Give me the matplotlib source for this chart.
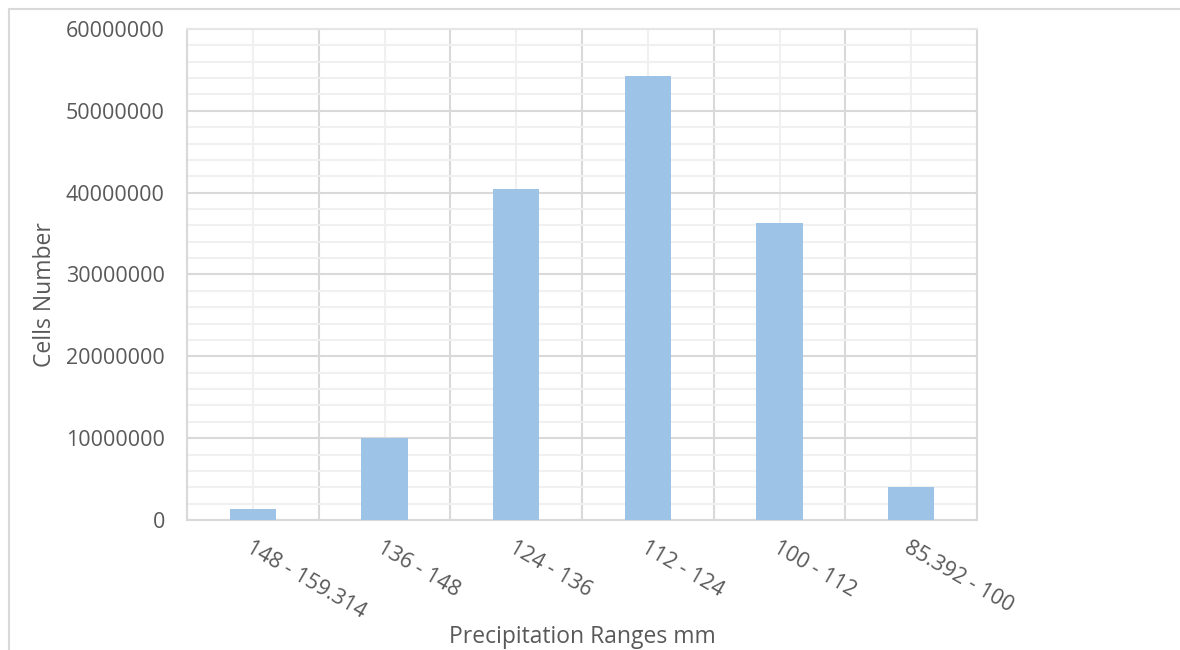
import numpy as np
import matplotlib
matplotlib.use("Agg")
import matplotlib.pyplot as plt
from matplotlib.lines import Line2D

# data
ranges = ["148 - 159.314", "136 - 148", "124 - 136", "112 - 124", "100 - 112", "85.392 - 100"]
cells = [1300000, 10000000, 40500000, 54300000, 36250000, 4000000]
yticks = [0, 10000000, 20000000, 30000000, 40000000, 50000000, 60000000]

plt.rcParams['font.family'] = ['Open Sans', 'DejaVu Sans']
textcol = "#595959"
major = "#d9d9d9"
minor = "#f0f0f0"

fig = plt.figure(figsize=(11.8, 6.5), dpi=100)
ax = fig.add_axes([187/1180, 130/650, 790/1180, 491/650])

x = np.arange(len(ranges))
ax.bar(x, cells, width=0.35, color="#9dc3e6", zorder=3)

ax.set_xlim(-0.5, len(ranges) - 0.5)
ax.set_ylim(0, 60000000)

# category centers carry labels + light grid, boundaries carry darker grid
ax.set_xticks(x)
ax.set_xticks(np.arange(-0.5, len(ranges)), minor=True)
ax.set_xticklabels(ranges, rotation=-30, ha="left", va="top", rotation_mode="anchor",
                   fontsize=15.5, color=textcol)
ax.set_yticks(yticks)
ax.set_yticks(np.arange(0, 60000001, 2000000), minor=True)
ax.set_yticklabels([str(v) for v in yticks], fontsize=15.5, color=textcol)

ax.grid(which="major", axis="x", color=minor, lw=1.5, zorder=0)
ax.grid(which="minor", axis="x", color=major, lw=1.5, zorder=1)
ax.grid(which="major", axis="y", color=major, lw=1.5, zorder=1)
ax.grid(which="minor", axis="y", color=minor, lw=1.5, zorder=0)
ax.tick_params(which="both", length=0)
ax.tick_params(axis="x", pad=12)
ax.tick_params(axis="y", pad=16)

for s in ax.spines.values():
    s.set_color(major)
    s.set_linewidth(1.5)
ax.spines["top"].set_color("#e6e6e6")

fig.text(45/1180, 1 - 295/650, "Cells Number", fontsize=16.5, color=textcol,
         rotation=90, ha="center", va="center")
fig.text(582/1180, 1 - 637/650, "Precipitation Ranges mm", fontsize=16.5, color=textcol,
         ha="center", va="center")

# outer chart frame
fig.add_artist(Line2D([8.5/1180, 8.5/1180], [0, 1 - 8.5/650], color=major, lw=1.5))
fig.add_artist(Line2D([8.5/1180, 1], [1 - 8.5/650, 1 - 8.5/650], color=major, lw=1.5))

fig.savefig("out.png", dpi=100)
